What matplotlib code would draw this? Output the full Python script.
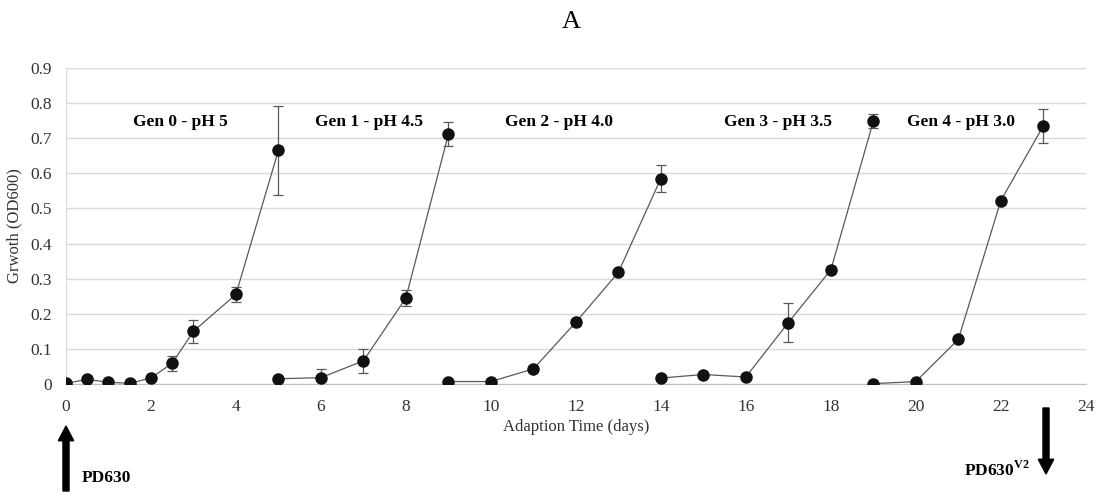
import matplotlib
matplotlib.use('Agg')
import matplotlib.pyplot as plt
from matplotlib.ticker import MultipleLocator, FuncFormatter

plt.rcParams['font.family'] = ['Liberation Serif', 'DejaVu Serif']
plt.rcParams['mathtext.fontset'] = 'custom'
plt.rcParams['mathtext.rm'] = 'Liberation Serif'
plt.rcParams['mathtext.bf'] = 'Liberation Serif:bold'

# days / OD600 / error for each generation
gen0_x = [0, 0.5, 1, 1.5, 2, 2.5, 3, 4, 5]
gen0_y = [0.002, 0.013, 0.005, 0.002, 0.017, 0.059, 0.150, 0.255, 0.665]
gen0_err = [0, 0, 0, 0, 0, 0.021, 0.033, 0.022, 0.127]

gen1_x = [5, 6, 7, 8, 9]
gen1_y = [0.015, 0.018, 0.066, 0.245, 0.711]
gen1_err = [0, 0.025, 0.034, 0.024, 0.034]

gen2_x = [9, 10, 11, 12, 13, 14]
gen2_y = [0.007, 0.007, 0.043, 0.176, 0.318, 0.585]
gen2_err = [0, 0, 0, 0.010, 0, 0.038]

gen3_x = [14, 15, 16, 17, 18, 19]
gen3_y = [0.017, 0.027, 0.020, 0.175, 0.325, 0.748]
gen3_err = [0, 0, 0, 0.055, 0.010, 0.020]

gen4_x = [19, 20, 21, 22, 23]
gen4_y = [0.001, 0.007, 0.127, 0.522, 0.735]
gen4_err = [0, 0, 0, 0, 0.049]

gen_labels = ['Gen 0 - pH 5', 'Gen 1 - pH 4.5', 'Gen 2 - pH 4.0',
              'Gen 3 - pH 3.5', 'Gen 4 - pH 3.0']
label_x = [2.7, 7.14, 11.6, 16.75, 21.06]
label_y = 0.745

series = [(gen0_x, gen0_y, gen0_err), (gen1_x, gen1_y, gen1_err),
          (gen2_x, gen2_y, gen2_err), (gen3_x, gen3_y, gen3_err),
          (gen4_x, gen4_y, gen4_err)]

fig = plt.figure(figsize=(10.99, 4.92), dpi=100)
ax = fig.add_axes([0.060, 0.2195, 0.928, 0.6425])

for xs, ys, es in series:
    ax.errorbar(xs, ys, yerr=es, color='#595959', lw=0.9, elinewidth=0.9,
                capsize=3.5, capthick=0.9, zorder=2)
    ax.plot(xs, ys, 'o', color='#111111', ms=8, zorder=3)

for lab, lx in zip(gen_labels, label_x):
    ax.text(lx, label_y, lab, ha='center', va='center', fontsize=12.5,
            fontweight='bold')

ax.set_xlim(0, 24)
ax.set_ylim(0, 0.9)
ax.xaxis.set_major_locator(MultipleLocator(2))
ax.yaxis.set_major_locator(MultipleLocator(0.1))
ax.yaxis.set_major_formatter(FuncFormatter(lambda v, p: '0' if abs(v) < 1e-9 else '%.1f' % v))
ax.grid(True, 'major', 'y', color='#d9d9d9', lw=1)
ax.set_axisbelow(True)
for s in ['top', 'right']:
    ax.spines[s].set_visible(False)
ax.spines['left'].set_color('#d9d9d9')
ax.spines['bottom'].set_color('#bfbfbf')
ax.tick_params(axis='y', length=0, labelsize=12.5, colors='#333333', pad=10)
ax.tick_params(axis='x', length=0, labelsize=12.5, colors='#333333', pad=11)
ax.set_xlabel('Adaption Time (days)', fontsize=12, color='#333333', labelpad=3)
ax.set_ylabel('Grwoth (OD600)', fontsize=12, color='#333333', labelpad=6)

fig.text(0.5195, 0.955, 'A', ha='center', va='center', fontsize=19)

# strain arrows below the axis
fig.patches.append(matplotlib.patches.FancyArrow(
    66 / 1099, 1 - 491 / 492, 0, 65 / 492, width=0.0055, head_width=0.014,
    head_length=0.03, length_includes_head=True, color='black',
    transform=fig.transFigure, figure=fig))
fig.patches.append(matplotlib.patches.FancyArrow(
    1046 / 1099, 1 - 408 / 492, 0, -66 / 492, width=0.0055, head_width=0.014,
    head_length=0.03, length_includes_head=True, color='black',
    transform=fig.transFigure, figure=fig))
fig.text(82 / 1099, 1 - 478 / 492, 'PD630', ha='left', va='center',
         fontsize=12.5, fontweight='bold')
fig.text(1030 / 1099, 1 - 470 / 492, r'PD630$^{\mathbf{V2}}$', ha='right',
         va='center', fontsize=12.5, fontweight='bold')

fig.savefig('out.png', dpi=100)
